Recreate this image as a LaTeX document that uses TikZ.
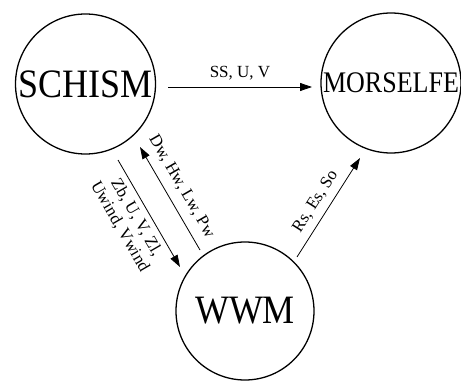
\documentclass[tikz,border=0pt]{standalone}
\usepackage{fontspec}
\setmainfont{Liberation Serif}
\usetikzlibrary{arrows.meta,calc}

\tikzset{
  model/.style={circle, draw, line width=1.3pt, minimum size=140pt, inner sep=0pt,
    font=\fontsize{36}{36}\selectfont},
  flow/.style={line width=0.8pt, -{Triangle[length=12pt,width=8pt]}},
  lbl/.style={font=\fontsize{17}{19}\selectfont, inner sep=0pt, align=center}
}

\begin{document}
\begin{tikzpicture}[x=1pt,y=1pt]
  \useasboundingbox (0,0) rectangle (461,381);

  % the three coupled models
  \node[model] (s) at (85.5,297) {\scalebox{1}[1.12]{SCHISM}};
  \node[model, font=\fontsize{26}{26}\selectfont] (m) at (391,298) {\scalebox{1}[1.15]{MORSELFE}};
  \node[model, minimum size=138pt] (w) at (245,70) {\scalebox{1}[1.12]{WWM}};

  % exchanged fields
  \draw[flow] ($(s.center)+(82.5,-3)$) -- ($(m.center)+(-79,-4)$)
    node[lbl, midway, above=6pt] {SS, U, V};
  \draw[flow] ($(w.center)+(-45,61)$) -- ($(s.center)+(54.5,-63)$);
  \node[lbl, rotate=-60] (dl) at (181.5,194.5) {Dw, Hw, Lw, Pw};
  \draw[flow] ($(s.center)+(32.5,-76)$) -- ($(w.center)+(-65,44)$);
  \node[lbl, rotate=-60] (zl) at (128,159) {Zb, U, V, Zl,\\Uwind, Vwind};
  \draw[flow] ($(w.center)+(52,54)$) -- ($(m.center)+(-31,-75)$);
  \node[lbl, rotate=57.5] (rl) at (315.5,179.5) {Rs, Es, So};
\end{tikzpicture}
\end{document}
